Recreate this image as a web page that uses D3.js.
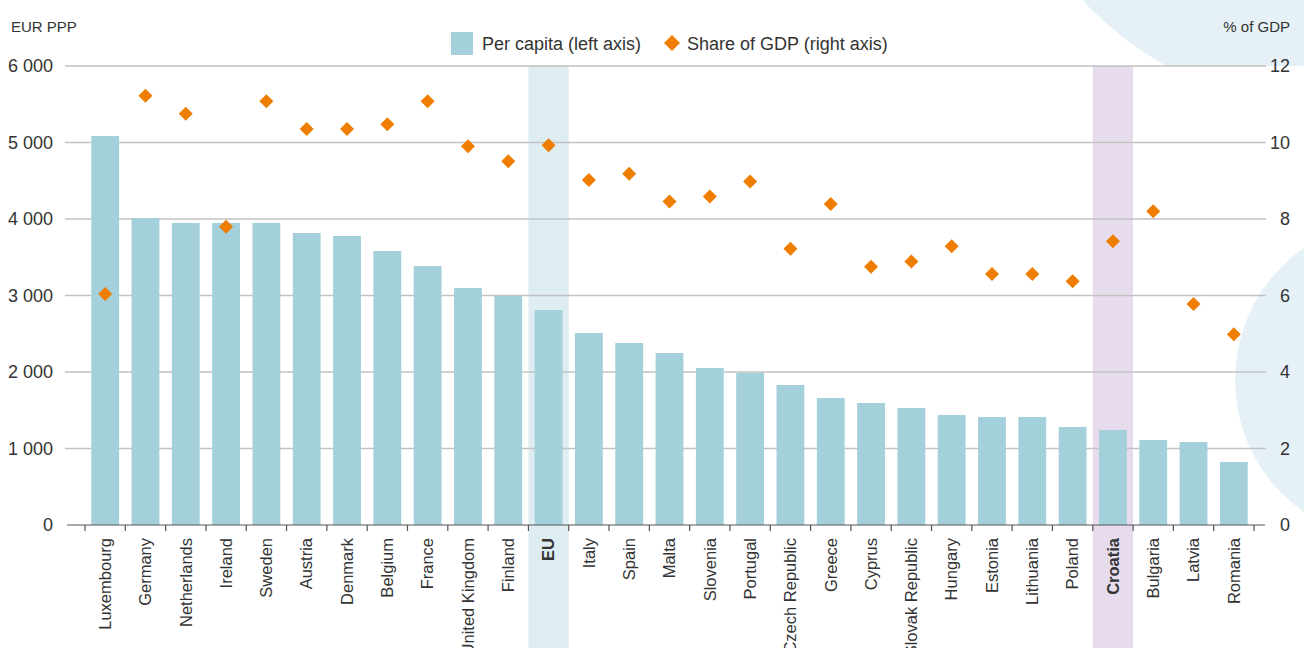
<!DOCTYPE html>
<html>
<head>
<meta charset="utf-8">
<script src="https://cdn.jsdelivr.net/npm/d3@7"></script>
<style>
  body { margin: 0; background: #fff; }
  svg { display: block; font-family: "Liberation Sans", Arial, sans-serif; }
</style>
</head>
<body>
<svg id="chart"></svg>
<script>
// data
var countries = ["Luxembourg", "Germany", "Netherlands", "Ireland", "Sweden", "Austria", "Denmark", "Belgium", "France",
  "United Kingdom", "Finland", "EU", "Italy", "Spain", "Malta", "Slovenia", "Portugal", "Czech Republic", "Greece",
  "Cyprus", "Slovak Republic", "Hungary", "Estonia", "Lithuania", "Poland", "Croatia", "Bulgaria", "Latvia", "Romania"];
var perCapita = [5085, 4013, 3948, 3948, 3948, 3817, 3778, 3582, 3386, 3098, 2993, 2810, 2510, 2379, 2248, 2052, 1987,
  1830, 1660, 1595, 1529, 1438, 1412, 1412, 1281, 1242, 1111, 1085, 824];
var shareGdp = [6.04, 11.22, 10.75, 7.8, 11.08, 10.35, 10.35, 10.48, 11.08, 9.9, 9.51, 9.93, 9.02, 9.18, 8.46, 8.59, 8.98,
  7.22, 8.39, 6.75, 6.89, 7.29, 6.56, 6.56, 6.37, 7.42, 8.2, 5.78, 4.99];
var leftTicks = [0, 1000, 2000, 3000, 4000, 5000, 6000];
var rightTicks = [0, 2, 4, 6, 8, 10, 12];
var highlights = {"EU": "#deedf2", "Croatia": "#e7dcee"};

var W = 1304, H = 648;
var svg = d3.select("#chart").attr("width", W).attr("height", H);

var plotTop = 66, plotBottom = 525, gridL = 65, gridR = 1266;

var x = d3.scaleBand().domain(countries).range([85, 1254]).padding(0);
var yL = d3.scaleLinear().domain([0, 6000]).range([plotBottom, plotTop]);
var yR = d3.scaleLinear().domain([0, 12]).range([plotBottom, plotTop]);

// background decoration
svg.append("clipPath").attr("id", "topclip")
  .append("rect").attr("x", 0).attr("y", 0).attr("width", W).attr("height", plotTop);
svg.append("circle").attr("cx", 1330).attr("cy", -230).attr("r", 338)
  .attr("fill", "#e5f1f6").attr("clip-path", "url(#topclip)");
svg.append("circle").attr("cx", 1396).attr("cy", 380).attr("r", 161).attr("fill", "#e5f1f6");

// highlight bands (EU, Croatia)
svg.selectAll("rect.hl")
  .data(countries.filter(function(c){ return highlights[c]; }))
  .enter().append("rect").attr("class", "hl")
  .attr("x", function(c){ return x(c); })
  .attr("y", plotTop)
  .attr("width", x.bandwidth())
  .attr("height", H - plotTop)
  .attr("fill", function(c){ return highlights[c]; });

// gridlines
svg.selectAll("line.grid")
  .data(leftTicks.slice(1)).enter()
  .append("line").attr("class", "grid")
  .attr("x1", gridL).attr("x2", gridR)
  .attr("y1", function(d){ return yL(d); })
  .attr("y2", function(d){ return yL(d); })
  .attr("stroke", "#c2c2c2").attr("stroke-width", 1.3);

// left axis
var fmt = function(d){ return d3.format(",")(d).replace(",", " "); };
var axL = svg.append("g").attr("transform", "translate(53,0)")
  .call(d3.axisLeft(yL).tickValues(leftTicks).tickFormat(fmt).tickSize(0).tickPadding(0));
axL.select(".domain").remove();
axL.selectAll("text").attr("font-size", 18).attr("fill", "#333").attr("font-family", null);

// right axis
var axR = svg.append("g").attr("transform", "translate(1290,0)")
  .call(d3.axisLeft(yR).tickValues(rightTicks).tickSize(0).tickPadding(0));
axR.select(".domain").remove();
axR.selectAll("text").attr("font-size", 18).attr("fill", "#333").attr("font-family", null);

// axis titles
svg.append("text").attr("x", 11).attr("y", 32).attr("font-size", 15).attr("fill", "#333").text("EUR PPP");
svg.append("text").attr("x", 1290).attr("y", 32).attr("text-anchor", "end")
  .attr("font-size", 15).attr("fill", "#333").text("% of GDP");

// bars
var barW = x.bandwidth() * 0.69;
svg.selectAll("rect.bar")
  .data(countries).enter()
  .append("rect").attr("class", "bar")
  .attr("x", function(c){ return x(c) + (x.bandwidth() - barW) / 2; })
  .attr("width", barW)
  .attr("y", function(c, i){ return yL(perCapita[i]); })
  .attr("height", function(c, i){ return plotBottom - yL(perCapita[i]); })
  .attr("fill", "#a3d0da");

// x axis line + ticks at band edges
svg.append("line").attr("x1", 67).attr("x2", 1265).attr("y1", plotBottom).attr("y2", plotBottom)
  .attr("stroke", "#555").attr("stroke-width", 1.2);
var edges = countries.map(function(c){ return x(c); }).concat([x.range()[1]]);
svg.selectAll("line.xtick")
  .data(edges).enter()
  .append("line").attr("class", "xtick")
  .attr("x1", function(d){ return d; }).attr("x2", function(d){ return d; })
  .attr("y1", plotBottom).attr("y2", plotBottom + 6)
  .attr("stroke", "#555").attr("stroke-width", 1.2);

// category labels
svg.selectAll("text.cat")
  .data(countries).enter()
  .append("text").attr("class", "cat")
  .attr("transform", function(c){
    return "translate(" + (x(c) + x.bandwidth() / 2) + "," + 538 + ") rotate(-90)";
  })
  .attr("dy", "0.35em")
  .attr("text-anchor", "end")
  .attr("font-size", 16.5)
  .attr("font-weight", function(c){ return highlights[c] ? "bold" : "normal"; })
  .attr("fill", "#333")
  .text(function(c){ return c; });

// share of GDP diamonds
var diamond = d3.symbol().type(d3.symbolSquare).size(98);
svg.selectAll("path.dot")
  .data(countries).enter()
  .append("path").attr("class", "dot")
  .attr("d", diamond)
  .attr("transform", function(c, i){
    return "translate(" + (x(c) + x.bandwidth() / 2) + "," + yR(shareGdp[i]) + ") rotate(45)";
  })
  .attr("fill", "#ef7d00");

// legend
var lg = svg.append("g");
lg.append("rect").attr("x", 451).attr("y", 32).attr("width", 22).attr("height", 23).attr("fill", "#a3d0da");
lg.append("text").attr("x", 482).attr("y", 50).attr("font-size", 18).attr("fill", "#333").text("Per capita (left axis)");
lg.append("path").attr("d", d3.symbol().type(d3.symbolSquare).size(128))
  .attr("transform", "translate(672,43) rotate(45)").attr("fill", "#ef7d00");
lg.append("text").attr("x", 687).attr("y", 50).attr("font-size", 18).attr("fill", "#333").text("Share of GDP (right axis)");
</script>
</body>
</html>
